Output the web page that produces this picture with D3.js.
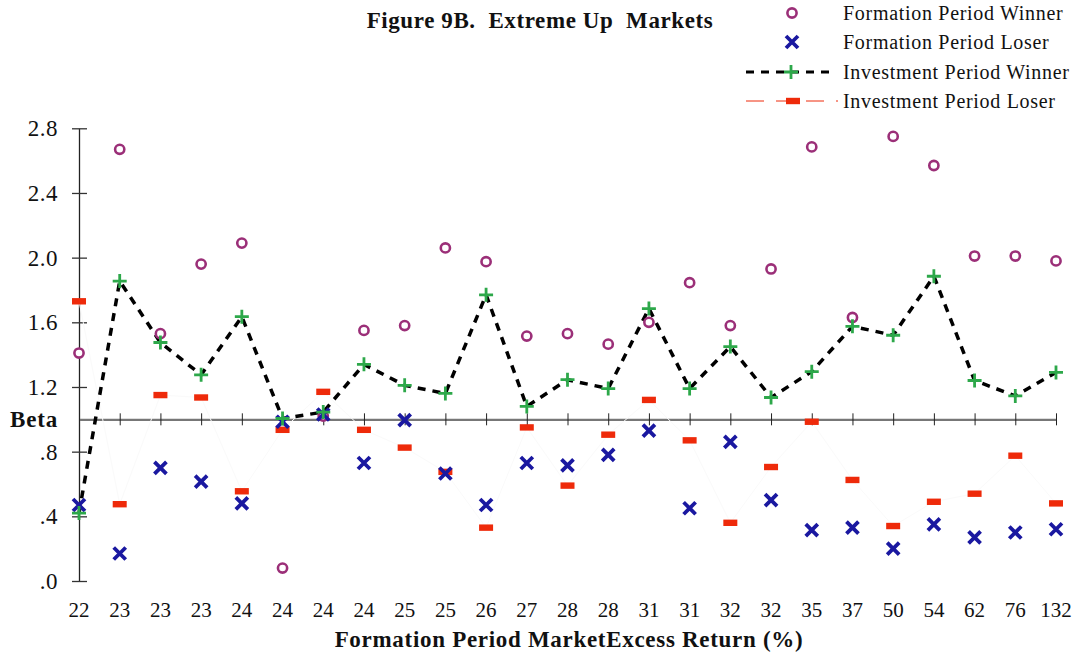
<!DOCTYPE html>
<html lang="en">
<head>
<meta charset="utf-8">
<title>Figure 9B</title>
<script src="https://d3js.org/d3.v7.min.js"></script>
<style>
  body { margin: 0; background: #fff; }
  text { font-family: "Liberation Serif", "DejaVu Serif", serif; fill: #111; white-space: pre; }
</style>
</head>
<body>
<div id="chart"></div>
<script>
// x categories: formation period market excess return (%)
var categories = ["22","23","23","23","24","24","24","24","25","25","26","27","28","28","31","31","32","32","35","37","50","54","62","76","132"];

var formWinner = [1.41,2.67,1.53,1.96,2.09,0.08,1.02,1.55,1.58,2.06,1.975,1.515,1.53,1.465,1.60,1.845,1.58,1.93,2.685,1.63,2.75,2.57,2.01,2.01,1.98];
var formLoser  = [0.47,0.17,0.70,0.615,0.48,0.985,1.03,0.73,0.995,0.665,0.47,0.73,0.715,0.78,0.93,0.45,0.86,0.50,0.315,0.33,0.20,0.35,0.27,0.30,0.32];
var invWinner  = [0.42,1.855,1.475,1.275,1.635,1.005,1.045,1.34,1.21,1.16,1.77,1.08,1.245,1.19,1.685,1.19,1.45,1.135,1.295,1.575,1.52,1.885,1.24,1.145,1.29];
var invLoser   = [1.73,0.475,1.15,1.135,0.555,0.935,1.17,0.935,0.825,0.675,0.33,0.95,0.59,0.905,1.12,0.87,0.36,0.705,0.985,0.625,0.34,0.49,0.54,0.775,0.48];

var yTicks = [0, 0.4, 0.8, 1.2, 1.6, 2.0, 2.4, 2.8];
var yTickLabels = [".0", ".4", ".8", "1.2", "1.6", "2.0", "2.4", "2.8"];

var width = 1074, height = 658;
var purple = "#9b2f78", blue = "#1a18a0", green = "#2da84a", red = "#ee2a0a";

var svg = d3.select("#chart").append("svg")
    .attr("width", width).attr("height", height);

var idx = d3.range(categories.length);
var x = d3.scalePoint().domain(idx).range([79, 1056]).padding(0);
var y = d3.scaleLinear().domain([0, 2.8]).range([581, 128.3]);

// title
svg.append("text").attr("x", 540).attr("y", 28)
    .attr("text-anchor", "middle").style("font-size", "23px").style("font-weight", "bold")
    .style("letter-spacing", "0.6px")
    .text("Figure 9B.  Extreme Up  Markets");

// y axis
var yAxis = svg.append("g").attr("transform", "translate(79,0)")
    .call(d3.axisLeft(y).tickValues(yTicks).tickSize(7).tickSizeOuter(0)
        .tickFormat(function(d, i) { return yTickLabels[i]; }));
yAxis.select(".domain").attr("stroke", "#222").attr("stroke-width", 1.3);
yAxis.selectAll(".tick line").attr("x1", -7).attr("x2", 8).attr("stroke", "#333").attr("stroke-width", 1.3);
yAxis.selectAll(".tick text").attr("x", -21).style("font-size", "23px")
    .style("letter-spacing", "0.5px")
    .style("font-family", "Liberation Serif, serif").attr("fill", "#111");

svg.append("text").attr("x", 58).attr("y", y(1.0)).attr("dy", "0.35em")
    .attr("text-anchor", "end").style("font-size", "23px").style("font-weight", "bold")
    .style("letter-spacing", "0.8px")
    .text("Beta");

// x axis line at beta = 1
var xAxis = svg.append("g").attr("transform", "translate(0," + y(1.0) + ")")
    .call(d3.axisBottom(x).tickSize(6).tickSizeOuter(0).tickFormat(""));
xAxis.select(".domain").attr("stroke", "#777").attr("stroke-width", 2.2);
xAxis.selectAll(".tick line").attr("y1", -6).attr("y2", 6).attr("stroke", "#222").attr("stroke-width", 1);

// x tick labels at bottom
svg.append("g").selectAll("text").data(idx).enter().append("text")
    .attr("x", function(i) { return x(i); }).attr("y", 617)
    .attr("text-anchor", "middle").style("font-size", "21px")
    .text(function(i) { return categories[i]; });

svg.append("text").attr("x", 569).attr("y", 647)
    .attr("text-anchor", "middle").style("font-size", "23px").style("font-weight", "bold")
    .style("letter-spacing", "0.7px")
    .text("Formation Period MarketExcess Return (%)");

// investment loser line (almost invisible in the original)
var line = d3.line().x(function(d, i) { return x(i); }).y(function(d) { return y(d); });
svg.append("path").datum(invLoser).attr("d", line)
    .attr("fill", "none").attr("stroke", "#fafafa").attr("stroke-width", 1);

// investment winner dashed line
svg.append("path").datum(invWinner).attr("d", line)
    .attr("fill", "none").attr("stroke", "#000").attr("stroke-width", 3.5)
    .attr("stroke-dasharray", "8,7");

function drawCircle(g, cx, cy) {
    g.append("circle").attr("cx", cx).attr("cy", cy).attr("r", 4.6)
        .attr("fill", "#fff").attr("stroke", purple).attr("stroke-width", 2.6);
}
function drawCross(g, cx, cy) {
    g.append("path").attr("d", "M" + (cx - 6) + "," + (cy - 6) + "L" + (cx + 6) + "," + (cy + 6) +
        "M" + (cx - 6) + "," + (cy + 6) + "L" + (cx + 6) + "," + (cy - 6))
        .attr("stroke", blue).attr("stroke-width", 3.8);
}
function drawPlus(g, cx, cy) {
    g.append("path").attr("d", "M" + (cx - 7) + "," + cy + "L" + (cx + 7) + "," + cy +
        "M" + cx + "," + (cy - 7) + "L" + cx + "," + (cy + 7))
        .attr("stroke", green).attr("stroke-width", 2.8);
}
function drawRect(g, cx, cy) {
    g.append("rect").attr("x", cx - 7).attr("y", cy - 3.2).attr("width", 14).attr("height", 6.4)
        .attr("fill", red);
}

var marks = svg.append("g");
formWinner.forEach(function(v, i) { drawCircle(marks, x(i), y(v)); });
invLoser.forEach(function(v, i) { drawRect(marks, x(i), y(v)); });
formLoser.forEach(function(v, i) { drawCross(marks, x(i), y(v)); });
invWinner.forEach(function(v, i) { drawPlus(marks, x(i), y(v)); });

// legend
var legendItems = ["Formation Period Winner", "Formation Period Loser", "Investment Period Winner", "Investment Period Loser"];
var leg = svg.append("g");
var rows = [13, 42, 72, 101];
legendItems.forEach(function(t, i) {
    leg.append("text").attr("x", 843).attr("y", rows[i]).attr("dy", "0.35em")
        .style("font-size", "20px").style("letter-spacing", "0.7px").text(t);
});
drawCircle(leg, 792, rows[0]);
drawCross(leg, 792, rows[1]);
leg.append("line").attr("x1", 746).attr("x2", 834).attr("y1", rows[2]).attr("y2", rows[2])
    .attr("stroke", "#000").attr("stroke-width", 3).attr("stroke-dasharray", "8,7");
drawPlus(leg, 791, rows[2]);
leg.append("line").attr("x1", 746).attr("x2", 838).attr("y1", rows[3]).attr("y2", rows[3])
    .attr("stroke", red).attr("stroke-width", 1).attr("stroke-dasharray", "18,12");
drawRect(leg, 793, rows[3]);
</script>
</body>
</html>
